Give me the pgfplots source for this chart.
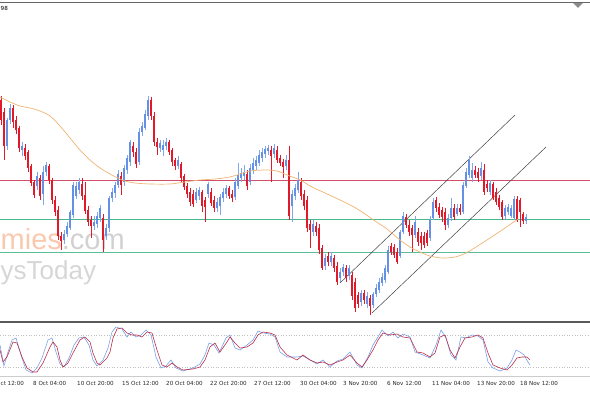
\documentclass[border=0pt]{standalone}
\usepackage{pgfplots}
\pgfplotsset{compat=1.18}
\usepackage{pgfplotstable}
\usepackage{fontspec}
\newfontfamily\dejavu{DejaVu Sans}
\newfontfamily\libsans{Liberation Sans}
\definecolor{cblue}{RGB}{100,145,230}
\definecolor{cred}{RGB}{225,25,40}
\definecolor{lvlred}{RGB}{210,80,105}
\definecolor{lvlgreen}{RGB}{90,190,150}
\definecolor{lvlgreenb}{RGB}{70,185,140}
\definecolor{maorange}{RGB}{238,180,115}
\definecolor{stblue}{RGB}{120,160,230}
\definecolor{stred}{RGB}{185,45,70}
\definecolor{wmorange}{RGB}{250,200,175}

\pgfplotstableread{
x o h l c
1 100 96 125 120
4 112 108 160 146
7 146 118 150 120
10 120 104 124 108
13 108 105 128 122
16 120 116 134 130
19 128 126 152 148
22 150 142 156 146
25 148 144 160 156
28 152 150 172 168
31 166 164 186 183
34 182 180 198 195
37 186 172 190 176
40 178 175 200 196
43 194 166 205 172
46 172 162 176 165
49 166 164 184 180
52 180 178 204 200
55 200 196 216 212
58 210 206 240 236
61 236 232 250 241
64 240 230 244 234
67 234 222 237 226
70 228 210 230 212
73 215 182 218 185
76 196 182 199 186
79 190 178 194 182
82 184 178 200 196
85 195 182 214 211
88 210 206 226 222
91 220 216 238 226
94 226 216 230 222
97 224 212 228 216
100 218 205 222 208
103 218 214 252 240
106 236 224 240 228
109 228 196 232 198
112 198 188 202 192
115 193 182 198 185
118 185 170 188 174
121 176 172 195 185
124 182 165 186 168
127 170 155 174 158
130 162 140 166 142
133 146 142 157 152
136 152 148 168 164
139 162 128 165 132
142 132 122 136 126
145 128 110 130 114
148 116 96 120 100
151 100 97 120 116
154 116 112 146 142
157 142 138 155 147
160 148 140 152 143
163 150 140 156 145
166 146 138 150 142
169 142 140 155 152
172 150 148 166 162
175 160 158 170 166
178 166 156 169 160
181 164 162 182 178
184 176 174 190 187
187 186 183 198 194
190 192 188 206 202
193 194 190 207 204
196 200 188 203 192
199 196 187 200 190
202 192 190 212 206
205 200 197 222 207
208 194 182 198 184
211 192 188 206 203
214 200 196 212 208
217 208 198 212 202
220 206 194 215 197
223 198 188 202 192
226 194 185 198 188
229 188 186 199 196
232 194 190 202 198
235 197 178 200 182
238 186 163 189 175
241 178 168 182 173
244 176 165 180 172
247 174 170 190 186
250 182 164 185 168
253 170 158 174 163
256 166 156 170 160
259 163 150 166 155
262 158 148 162 152
265 154 146 158 149
268 151 145 155 148
271 150 146 182 156
274 154 144 158 148
277 150 146 163 160
280 158 155 166 163
283 162 159 178 167
286 166 155 170 160
289 160 146 220 216
292 206 190 222 194
295 196 184 200 188
298 190 172 193 180
301 182 178 200 196
304 194 190 210 206
307 200 196 232 228
310 224 220 248 230
313 232 220 236 224
316 226 222 236 232
319 228 224 254 250
322 248 245 270 268
325 266 254 270 258
328 256 252 266 262
331 262 252 266 256
334 258 255 272 268
337 266 262 285 282
340 278 268 282 272
343 272 264 276 267
346 268 265 282 278
349 276 265 280 268
352 275 272 300 296
355 282 278 312 308
358 295 292 308 304
361 302 290 306 293
364 293 290 304 300
367 304 292 308 296
370 298 295 315 306
373 305 292 308 294
376 294 284 297 288
379 290 278 293 282
382 283 273 286 277
385 280 265 283 268
388 272 246 274 250
391 246 243 255 252
394 247 244 258 255
397 252 248 264 262
400 256 230 258 232
403 232 212 234 216
406 217 214 228 225
409 225 220 236 232
412 228 225 252 235
415 235 216 238 222
418 232 228 246 242
421 236 232 250 243
424 236 232 248 245
427 233 230 246 243
430 238 216 241 220
433 218 198 220 202
436 200 197 212 208
439 207 203 218 215
442 210 207 222 217
445 212 208 230 225
448 225 214 228 218
451 218 198 221 208
454 208 204 220 217
457 214 204 216 208
460 208 204 215 212
463 212 182 214 185
466 186 168 188 172
469 175 156 178 160
472 178 163 182 170
475 170 166 178 175
478 172 168 182 178
481 176 162 180 168
484 170 164 195 192
487 184 180 192 188
490 192 180 195 183
493 184 182 200 198
496 192 188 205 202
499 198 195 210 207
502 202 200 220 217
505 216 205 219 208
508 212 204 215 207
511 216 205 218 208
514 218 196 220 199
517 199 196 222 220
520 200 198 227 212
523 214 212 224 221
526 221 214 224 217
}\candles

\begin{document}
\begin{tikzpicture}[x=1pt,y=1pt]
% main price panel
\begin{axis}[
  at={(0pt,73pt)}, anchor=south west,
  scale only axis, width=590pt, height=317pt,
  xmin=0, xmax=590, ymin=3, ymax=320, y dir=reverse,
  axis line style={draw=none}, xtick=\empty, ytick=\empty,
]
% watermark (under the chart)
\node[anchor=base west, inner sep=0pt, font=\libsans\fontsize{29}{30}\selectfont]
  at (axis cs:0.5,250) {\textcolor{wmorange}{mies}\textcolor{black!18}{.com}};
\node[anchor=base west, inner sep=0pt, font=\libsans\fontsize{26}{28}\selectfont, text=black!16]
  at (axis cs:0.5,280) {ysToday};
% horizontal levels
\addplot[draw=lvlred, mark=none, line width=1pt] coordinates {(0,181) (590,181)};
\addplot[draw=lvlgreenb, mark=none, line width=1.1pt] coordinates {(0,219.6) (590,219.6)};
\addplot[draw=lvlgreen, mark=none, line width=1pt] coordinates {(0,253) (590,253)};
% channel
\addplot[draw=black!75, mark=none, line width=0.5pt] coordinates {(340,283) (515,115)};
\addplot[draw=black!75, mark=none, line width=0.5pt] coordinates {(372,313) (546,147)};
% wicks
\addplot[draw=none, mark=none,
  restrict expr to domain={\thisrow{o}-\thisrow{c}}{0:1000},
  error bars/.cd, y dir=plus, y explicit, error mark=none,
  error bar style={draw=cblue!80, line width=0.7pt}]
  table[x=x, y=h, y error expr=\thisrow{l}-\thisrow{h}] {\candles};
\addplot[draw=none, mark=none,
  restrict expr to domain={\thisrow{c}-\thisrow{o}}{0.001:1000},
  error bars/.cd, y dir=plus, y explicit, error mark=none,
  error bar style={draw=cred, line width=0.7pt}]
  table[x=x, y=h, y error expr=\thisrow{l}-\thisrow{h}] {\candles};
% bodies
\addplot[draw=none, mark=none,
  restrict expr to domain={\thisrow{o}-\thisrow{c}}{0:1000},
  error bars/.cd, y dir=plus, y explicit, error mark=none,
  error bar style={draw=cblue, line width=1.9pt}]
  table[x=x, y expr={min(\thisrow{o},\thisrow{c})}, y error expr={abs(\thisrow{o}-\thisrow{c})}] {\candles};
\addplot[draw=none, mark=none,
  restrict expr to domain={\thisrow{c}-\thisrow{o}}{0.001:1000},
  error bars/.cd, y dir=plus, y explicit, error mark=none,
  error bar style={draw=cred, line width=1.9pt}]
  table[x=x, y expr={min(\thisrow{o},\thisrow{c})}, y error expr={abs(\thisrow{o}-\thisrow{c})}] {\candles};
% moving average
\addplot[draw=maorange, mark=none, line width=0.7pt, smooth] coordinates {
(0,97) (10,102) (20,106) (30,108) (40,111) (50,116) (60,126) (70,138) (80,150)
(90,160) (100,168) (110,174) (118,178) (125,181) (135,183) (150,184) (170,184)
(185,182) (200,180) (215,179) (230,177) (240,174) (250,171) (265,170) (277,171)
(287,175) (300,180) (312,187) (325,193) (340,200) (354,207) (365,214) (375,221)
(387,229) (400,240) (410,247) (420,252) (430,256) (442,258) (455,257) (466,253)
(476,247) (490,238) (505,228) (518,219)};
\end{axis}
% stochastic panel
\begin{axis}[
  at={(0pt,17pt)}, anchor=south west,
  scale only axis, width=590pt, height=54pt,
  xmin=0, xmax=590, ymin=322, ymax=376, y dir=reverse,
  axis line style={draw=none}, ytick=\empty, clip=false,
  xtick={33,77,122,166,210,254,300,343,387,432,477,520},
  xticklabels={8 Oct 04:00,10 Oct 20:00,15 Oct 12:00,20 Oct 04:00,22 Oct 20:00,27 Oct 12:00,30 Oct 04:00,3 Nov 20:00,6 Nov 12:00,11 Nov 04:00,13 Nov 20:00,18 Nov 12:00},
  major tick length=0pt,
  xticklabel style={font=\dejavu\fontsize{5.6}{6}\selectfont, text=black!85, anchor=base west, inner sep=0pt, yshift=-10pt},
]
\addplot[draw=black!25, mark=none, dotted, line width=0.6pt] coordinates {(0,335) (590,335)};
\addplot[draw=black!25, mark=none, dotted, line width=0.6pt] coordinates {(0,367) (590,367)};
\addplot[draw=stblue, mark=none, line width=0.6pt] coordinates {
(0,345) (4,366) (8,352) (12,340) (16,338) (21,355) (26,370) (32,373) (37,368) (42,358)
(48,340) (52,338) (56,352) (60,364) (64,367) (69,358) (74,345) (79,338) (84,337) (89,345)
(93,360) (97,366) (103,360) (108,348) (112,332) (116,327) (122,329) (127,337) (131,332)
(136,337) (141,335) (146,330) (151,335) (156,357) (161,368) (166,366) (171,360) (176,368)
(183,371) (193,368) (200,364) (205,355) (209,343) (214,345) (219,353) (226,338) (230,335)
(235,348) (240,350) (247,345) (253,340) (258,331) (263,333) (270,334) (275,337) (280,352)
(287,357) (293,357) (297,357) (303,356) (310,360) (317,364) (323,360) (330,367) (337,361)
(343,359) (350,352) (357,365) (362,368) (368,357) (373,345) (378,337) (382,330) (388,336)
(393,332) (398,338) (403,334) (410,337) (415,352) (423,355) (430,358) (436,345) (441,330)
(446,338) (451,355) (456,360) (461,337) (466,338) (472,335) (478,336) (483,340) (488,362)
(493,368) (500,371) (507,368) (512,360) (516,350) (520,352) (524,355) (528,362) (530,365)};
\addplot[draw=stred, mark=none, line width=0.6pt] coordinates {
(0,350) (3,362) (7,357) (13,342) (17,343) (22,357) (27,368) (33,372) (37,372) (43,363)
(50,347) (53,342) (57,347) (60,360) (63,367) (68,363) (73,353) (80,340) (85,337) (90,342)
(93,353) (97,363) (100,365) (107,358) (110,352) (113,338) (117,329) (122,328) (127,333)
(132,335) (137,335) (142,337) (147,332) (152,333) (157,350) (162,365) (167,367) (172,363)
(177,367) (183,370) (193,369) (200,367) (205,360) (210,347) (215,343) (220,352) (227,342)
(230,337) (235,343) (240,348) (247,347) (253,343) (258,335) (263,332) (270,333) (275,335)
(280,347) (287,355) (293,358) (297,360) (303,355) (310,360) (317,363) (323,362) (330,365)
(337,362) (343,360) (350,355) (357,363) (362,367) (367,360) (373,350) (378,340) (383,333)
(390,335) (397,334) (403,337) (410,338) (417,352) (423,353) (430,357) (435,353) (440,337)
(445,335) (450,350) (455,358) (460,347) (465,338) (472,337) (478,335) (483,338) (488,353)
(493,365) (500,368) (507,370) (512,365) (517,358) (522,357) (527,357) (530,360)};
\node[anchor=base west, inner sep=0pt, font=\dejavu\fontsize{5.6}{6}\selectfont, text=black!85]
  at (axis cs:0.5,386) {ct 12:00};
\draw[black!65, line width=1.3pt] (axis cs:0,322) -- (axis cs:590,322);
\draw[black!20, line width=0.6pt] (axis cs:0,376.5) -- (axis cs:590,376.5);
\end{axis}
% frame top and decorations
\draw[black!60, line width=1pt] (0pt,390.5pt) -- (590pt,390.5pt);
\fill[black!45] (573pt,390pt) -- (583pt,390pt) -- (578pt,385pt) -- cycle;
\node[anchor=west, inner sep=0pt, font=\dejavu\fontsize{5.6}{6}\selectfont] at (0.5pt,384.5pt) {98};
\pgfresetboundingbox
\useasboundingbox (0pt,0pt) rectangle (590pt,393pt);
\end{tikzpicture}
\end{document}
